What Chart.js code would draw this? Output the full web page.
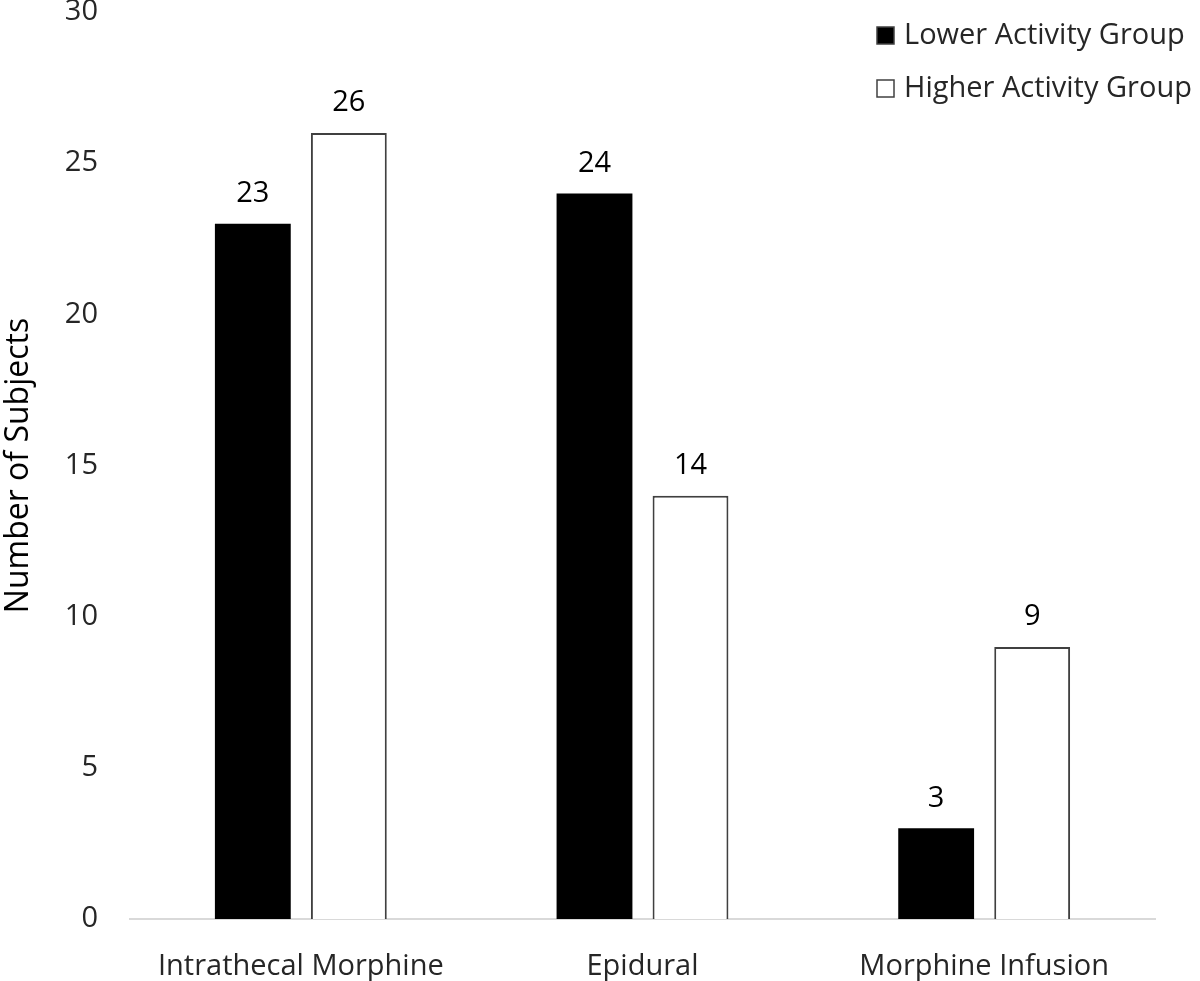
<!DOCTYPE html>
<html>
<head>
<meta charset="utf-8">
<script src="https://cdn.jsdelivr.net/npm/chart.js@4"></script>
<style>
  body { margin: 0; background: #fff; }
  #wrap { width: 1200px; height: 981px; position: relative; }
</style>
</head>
<body>
<div id="wrap"><canvas id="chartSubjects"></canvas></div>
<script>
const categories = ["Intrathecal Morphine", "Epidural", "Morphine Infusion"];
const lowerActivity = [23, 24, 3];
const higherActivity = [26, 14, 9];
const seriesNames = ["Lower Activity Group", "Higher Activity Group"];
const yMin = 0, yMax = 30, yStep = 5;

const FONT = "'Open Sans', sans-serif";
const TEXT = "#262626";

// value labels above each bar
const valueLabels = {
  id: "valueLabels",
  afterDatasetsDraw(chart) {
    const ctx = chart.ctx;
    ctx.save();
    ctx.font = "29px " + FONT;
    ctx.fillStyle = "#000";
    ctx.textAlign = "center";
    ctx.textBaseline = "middle";
    chart.data.datasets.forEach((ds, i) => {
      chart.getDatasetMeta(i).data.forEach((bar, j) => {
        ctx.fillText(ds.data[j], bar.x, bar.y - 30);
      });
    });
    ctx.restore();
  },
};

// legend in the top right corner, inside the plot
const cornerLegend = {
  id: "cornerLegend",
  afterDraw(chart) {
    const ctx = chart.ctx;
    ctx.save();
    ctx.font = "29px " + FONT;
    ctx.textBaseline = "middle";
    chart.data.datasets.forEach((ds, i) => {
      const y = 36 + i * 53;
      ctx.fillStyle = ds.backgroundColor;
      ctx.fillRect(877, y - 9, 17, 17);
      ctx.strokeStyle = "#404040";
      ctx.lineWidth = 1.5;
      ctx.strokeRect(877, y - 9, 17, 17);
      ctx.fillStyle = TEXT;
      ctx.textAlign = "left";
      ctx.fillText(ds.label, 904, y);
    });
    ctx.restore();
  },
};

new Chart(document.getElementById("chartSubjects").getContext("2d"), {
  type: "bar",
  data: {
    labels: categories,
    datasets: [
      {
        label: seriesNames[0],
        data: lowerActivity,
        backgroundColor: "#000000",
        borderWidth: 0,
      },
      {
        label: seriesNames[1],
        data: higherActivity,
        backgroundColor: "#ffffff",
        borderColor: "#404040",
        borderWidth: 2,
      },
    ],
  },
  options: {
    responsive: true,
    maintainAspectRatio: false,
    animation: false,
    categoryPercentage: 0.562,
    barPercentage: 0.79,
    layout: { padding: { top: 12, right: 45, bottom: 0, left: 0 } },
    plugins: {
      legend: { display: false },
      tooltip: { enabled: false },
    },
    scales: {
      x: {
        grid: { display: false },
        border: { color: "#d9d9d9", width: 2 },
        ticks: { color: TEXT, font: { family: FONT, size: 29 }, padding: 22 },
        afterFit: (s) => { s.height = 62; s.paddingLeft = 0; s.paddingRight = 0; },
      },
      y: {
        min: yMin,
        max: yMax,
        grid: { display: false },
        border: { display: false },
        ticks: { stepSize: yStep, color: TEXT, font: { family: FONT, size: 29 }, padding: 24 },
        title: {
          display: true,
          text: "Number of Subjects",
          color: "#000",
          font: { family: FONT, size: 32 },
          padding: 0,
        },
        afterFit: (s) => { s.width = 130; s.paddingTop = 0; s.paddingBottom = 0; },
      },
    },
  },
  plugins: [valueLabels, cornerLegend],
});
</script>
</body>
</html>
